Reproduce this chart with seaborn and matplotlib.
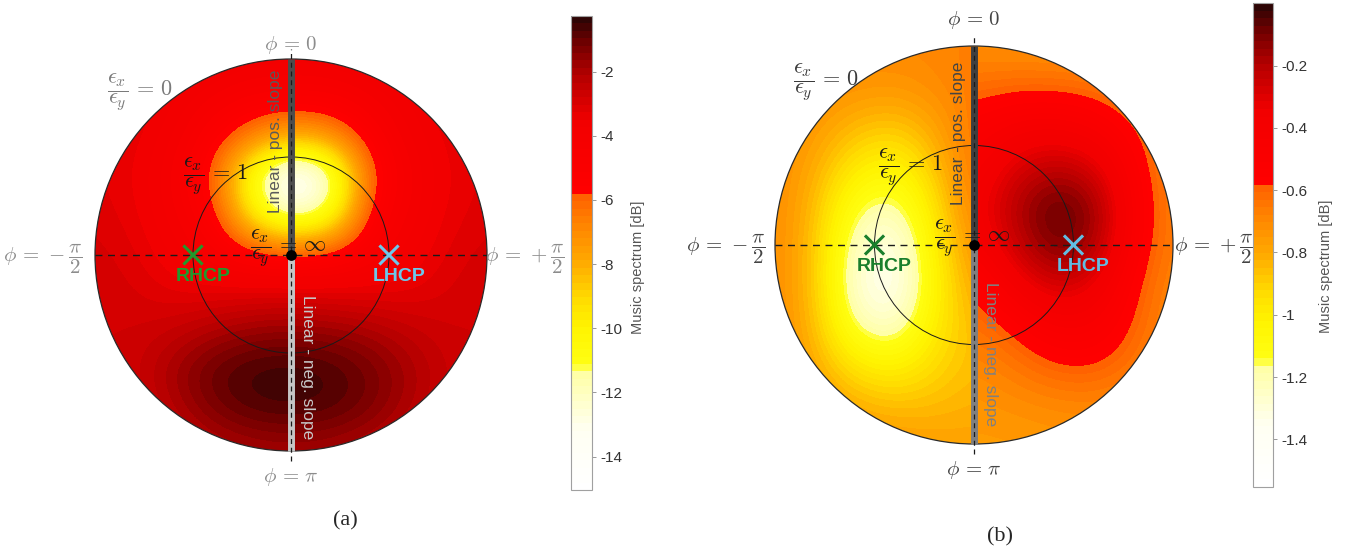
import numpy as np
import matplotlib
matplotlib.use("Agg")
import matplotlib.pyplot as plt
import seaborn as sns
from matplotlib.colors import LinearSegmentedColormap, Normalize
from matplotlib.patches import Circle, Wedge

sns.set_style("white")
plt.rcParams["font.family"] = ["Liberation Sans", "DejaVu Sans"]
plt.rcParams["mathtext.fontset"] = "cm"
plt.rcParams["axes.unicode_minus"] = False

# ---------------- data (values in dB) ----------------
grid_y = [1.0, 0.8, 0.6, 0.4, 0.2, 0.0, -0.2, -0.4, -0.6, -0.8, -1.0]
grid_x_full = [-1.0, -0.8, -0.6, -0.4, -0.2, 0.0, 0.2, 0.4, 0.6, 0.8, 1.0]
grid_x_left = [-1.0, -0.8, -0.6, -0.4, -0.2, 0.0]
grid_x_right = [0.0, 0.2, 0.4, 0.6, 0.8, 1.0]

# panel (a): whole disk
spectrum_a = [
    [-2.9, -3.0, -3.2, -3.5, -3.7, -3.8, -3.7, -3.5, -3.2, -3.0, -2.9],
    [-3.0, -3.2, -3.7, -4.2, -4.6, -4.6, -4.6, -4.2, -3.7, -3.2, -3.0],
    [-3.1, -3.4, -3.9, -5.0, -6.6, -8.0, -7.2, -5.0, -3.9, -3.4, -3.1],
    [-3.2, -3.5, -4.2, -5.8, -11.2, -15.0, -12.8, -5.9, -4.2, -3.5, -3.2],
    [-3.1, -3.4, -4.1, -5.0, -9.8, -12.5, -11.0, -5.1, -4.1, -3.4, -3.1],
    [-2.9, -3.2, -3.8, -4.4, -5.1, -5.5, -5.2, -4.4, -3.8, -3.2, -2.9],
    [-2.8, -3.0, -3.3, -3.3, -3.2, -3.1, -3.2, -3.3, -3.3, -3.0, -2.8],
    [-2.8, -2.8, -2.5, -2.0, -1.6, -1.5, -1.6, -1.9, -2.4, -2.8, -2.8],
    [-2.9, -2.7, -1.8, -0.9, -0.5, -0.4, -0.6, -1.1, -1.9, -2.6, -2.9],
    [-3.0, -2.9, -2.2, -1.3, -0.8, -0.7, -0.8, -1.3, -2.1, -2.8, -3.0],
    [-3.1, -3.1, -2.8, -2.4, -2.1, -2.0, -2.1, -2.4, -2.8, -3.1, -3.1],
]

# panel (b): left half-disk and right half-disk (discontinuous at the phi = 0 / pi line)
spectrum_b_left = [
    [-0.70, -0.70, -0.70, -0.70, -0.69, -0.67],
    [-0.70, -0.71, -0.73, -0.74, -0.71, -0.66],
    [-0.70, -0.75, -0.84, -0.88, -0.79, -0.64],
    [-0.70, -0.80, -0.98, -1.05, -0.88, -0.63],
    [-0.70, -0.84, -1.14, -1.22, -0.96, -0.66],
    [-0.70, -0.86, -1.25, -1.36, -1.01, -0.71],
    [-0.70, -0.86, -1.30, -1.40, -1.04, -0.77],
    [-0.70, -0.84, -1.20, -1.28, -1.00, -0.83],
    [-0.70, -0.80, -0.98, -1.04, -0.93, -0.85],
    [-0.70, -0.74, -0.82, -0.86, -0.85, -0.82],
    [-0.70, -0.71, -0.73, -0.75, -0.77, -0.78],
]
spectrum_b_right = [
    [-0.72, -0.73, -0.74, -0.74, -0.73, -0.72],
    [-0.63, -0.61, -0.61, -0.63, -0.69, -0.72],
    [-0.52, -0.44, -0.42, -0.47, -0.58, -0.70],
    [-0.45, -0.30, -0.22, -0.28, -0.52, -0.69],
    [-0.40, -0.20, -0.05, -0.12, -0.48, -0.68],
    [-0.45, -0.25, -0.08, -0.15, -0.50, -0.68],
    [-0.58, -0.40, -0.25, -0.32, -0.56, -0.70],
    [-0.64, -0.56, -0.45, -0.45, -0.59, -0.71],
    [-0.70, -0.65, -0.58, -0.57, -0.64, -0.72],
    [-0.74, -0.72, -0.70, -0.69, -0.71, -0.74],
    [-0.76, -0.76, -0.75, -0.74, -0.74, -0.75],
]

range_a = [-15.04, -0.27]
range_b = [-1.552, 0.0]
ticks_a = [-14, -12, -10, -8, -6, -4, -2]
tick_labels_a = ["-14", "-12", "-10", "-8", "-6", "-4", "-2"]
ticks_b = [-1.4, -1.2, -1.0, -0.8, -0.6, -0.4, -0.2]
tick_labels_b = ["-1.4", "-1.2", "-1", "-0.8", "-0.6", "-0.4", "-0.2"]

pol_names = ["RHCP", "LHCP"]
pol_x = [-0.5, 0.5]
pol_y = [0.0, 0.0]

cbar_label = "Music spectrum [dB]"
captions = ["(a)", "(b)"]

# ---------------- colormap (MATLAB-like hot variant) ----------------
cmap = LinearSegmentedColormap.from_list("music", [
    (0.000, "#ffffff"),
    (0.120, "#fffff2"),
    (0.250, "#ffffa0"),
    (0.256, "#ffff14"),
    (0.340, "#fff400"),
    (0.400, "#ffdc00"),
    (0.480, "#ffaa00"),
    (0.560, "#ff8400"),
    (0.624, "#ff6000"),
    (0.630, "#ff0000"),
    (0.780, "#f20000"),
    (0.880, "#b40000"),
    (0.950, "#700000"),
    (1.000, "#2e0505"),
], N=64)

fig = plt.figure(figsize=(13.46, 5.52), dpi=100)


def draw_panel(ax, pieces, norm, st):
    for values, xs, clip in pieces:
        im = ax.imshow(np.asarray(values), extent=[xs[0] - 0.1, xs[-1] + 0.1, -1.1, 1.1],
                       origin="upper", cmap=cmap, norm=norm, interpolation="bicubic",
                       interpolation_stage="data", aspect="auto", zorder=1)
        im.set_clip_path(clip)
    ax.set_xlim(-1, 1)
    ax.set_ylim(-1, 1)
    ax.axis("off")
    ax.add_patch(Circle((0, 0), 1, fill=False, ec="#2a2a2a", lw=0.9, clip_on=False, zorder=3))
    ax.add_patch(Circle((0, 0), 0.5, fill=False, ec="#1a1a1a", lw=0.7, zorder=3))
    ax.plot([-1, 1], [0, 0], ls=(0, (5, 4)), color="#1a1a1a", lw=1.0, zorder=4)
    ax.plot([0, 0], [0, 1], color=st["up_bar"], lw=5, solid_capstyle="butt", zorder=4, clip_on=False)
    ax.plot([0, 0], [0, -1], color=st["low_bar"], lw=5, solid_capstyle="butt", zorder=4, clip_on=False)
    ax.plot([0, 0], [-1.05, 1.05], ls=(0, (4, 3)), color="#1a1a1a", lw=0.9, zorder=5, clip_on=False)
    sns.scatterplot(x=pol_x, y=pol_y, hue=pol_names, palette=[st["rhcp"], st["lhcp"]],
                    marker="x", s=190, linewidth=2.2, legend=False, ax=ax, zorder=6, clip_on=False)
    sns.scatterplot(x=[0.0], y=[0.0], color="black", s=60, linewidth=0, ax=ax, zorder=7, legend=False)
    ax.text(pol_x[0] + 0.05, -0.11, pol_names[0], color=st["rhcp"], fontsize=14, fontweight="bold",
            ha="center", va="center", zorder=8)
    ax.text(pol_x[1] + 0.05, -0.11, pol_names[1], color=st["lhcp"], fontsize=14, fontweight="bold",
            ha="center", va="center", zorder=8)
    ax.text(-0.08, st["pos_y"], "Linear - pos. slope", rotation=90, ha="center", va="center",
            fontsize=12.5, color=st["pos_col"], zorder=8)
    ax.text(0.085, st["neg_y"], "Linear - neg. slope", rotation=-90, ha="center", va="center",
            fontsize=12.5, color=st["neg_col"], zorder=8)
    lc = st["phi_col"]
    ax.text(0, st["top_y"], r"$\phi\,=\,0$", ha="center", va="center", fontsize=15, color=lc)
    ax.text(0, st["bot_y"], r"$\phi\,=\,\pi$", ha="center", va="center", fontsize=15, color=lc)
    ax.text(st["left_x"], -0.02, r"$\phi\,=\,-\dfrac{\pi}{2}$", ha="right", va="center", fontsize=15, color=lc)
    ax.text(st["right_x"], -0.02, r"$\phi\,=\,+\dfrac{\pi}{2}$", ha="left", va="center", fontsize=15, color=lc)
    ax.text(st["e0"][0], st["e0"][1], r"$\dfrac{\epsilon_x}{\epsilon_y}\,=\,0$", ha="left", va="center",
            fontsize=16, color=st["e0_col"], zorder=8)
    ax.text(st["e1"][0], st["e1"][1], r"$\dfrac{\epsilon_x}{\epsilon_y}\,=\,1$", ha="left", va="center",
            fontsize=16, color="#1a1a1a", zorder=8)
    ax.text(st["einf"][0], st["einf"][1], r"$\dfrac{\epsilon_x}{\epsilon_y}\,=\,\infty$", ha="left",
            va="center", fontsize=16, color="#1a1a1a", zorder=8)
    return ax.images[0]


def draw_cbar(cax, im, ticks, labels, lab_xy):
    cb = fig.colorbar(im, cax=cax)
    cb.set_ticks(ticks, labels=labels)
    cb.outline.set_edgecolor("#a0a0a0")
    cb.outline.set_linewidth(0.8)
    cax.tick_params(direction="out", length=3, width=0.6, color="#888888", labelsize=11,
                    labelcolor="#333333", pad=3)
    cb.set_label(cbar_label, fontsize=10.5, color="#555555")
    cax.yaxis.set_label_coords(*lab_xy)


# panel (a)
R_a, cx_a, cy_a = 196, 291, 255
ax_a = fig.add_axes([(cx_a - R_a) / 1346, (552 - cy_a - R_a) / 552, 2 * R_a / 1346, 2 * R_a / 552])
norm_a = Normalize(*range_a)
style_a = dict(up_bar="#4d4d4d", low_bar="#c6c6c6", rhcp="#1f9a2c", lhcp="#6cc8ec",
               pos_col="#5a5a5a", neg_col="#c8c8c8", pos_y=0.58, neg_y=-0.57,
               phi_col="#8c8c8c", top_y=1.07, bot_y=-1.135, left_x=-1.065, right_x=0.99,
               e0=(-0.94, 0.83), e0_col="#7a7a7a", e1=(-0.55, 0.40), einf=(-0.21, 0.035))
im_a = draw_panel(ax_a, [(spectrum_a, grid_x_full, Circle((0, 0), 1, transform=ax_a.transData))],
                  norm_a, style_a)
cax_a = fig.add_axes([571 / 1346, (552 - 490) / 552, 21 / 1346, 474 / 552])
draw_cbar(cax_a, im_a, ticks_a, tick_labels_a, (2.85, 0.47))

# panel (b)
R_b, cx_b, cy_b = 199, 974, 245
ax_b = fig.add_axes([(cx_b - R_b) / 1346, (552 - cy_b - R_b) / 552, 2 * R_b / 1346, 2 * R_b / 552])
norm_b = Normalize(*range_b)
style_b = dict(up_bar="#3f3f3f", low_bar="#7f7f7f", rhcp="#1a7f2c", lhcp="#62bde3",
               pos_col="#444444", neg_col="#808080", pos_y=0.56, neg_y=-0.55,
               phi_col="#444444", top_y=1.13, bot_y=-1.13, left_x=-1.05, right_x=1.005,
               e0=(-0.91, 0.82), e0_col="#3a3a3a", e1=(-0.48, 0.39), einf=(-0.2, 0.035))
im_b = draw_panel(ax_b, [(spectrum_b_left, grid_x_left, Wedge((0, 0), 1, 90, 270, transform=ax_b.transData)),
                         (spectrum_b_right, grid_x_right, Wedge((0, 0), 1, -90, 90, transform=ax_b.transData))],
                  norm_b, style_b)
cax_b = fig.add_axes([1253 / 1346, (552 - 486.7) / 552, 20 / 1346, 483.4 / 552])
draw_cbar(cax_b, im_b, ticks_b, tick_labels_b, (3.3, 0.455))

fig.text(345 / 1346, 1 - 521 / 552, captions[0], family="Liberation Serif", fontsize=16, ha="center", va="center")
fig.text(1000 / 1346, 1 - 537 / 552, captions[1], family="Liberation Serif", fontsize=16, ha="center", va="center")

fig.savefig("out.png", dpi=100, facecolor="white")
